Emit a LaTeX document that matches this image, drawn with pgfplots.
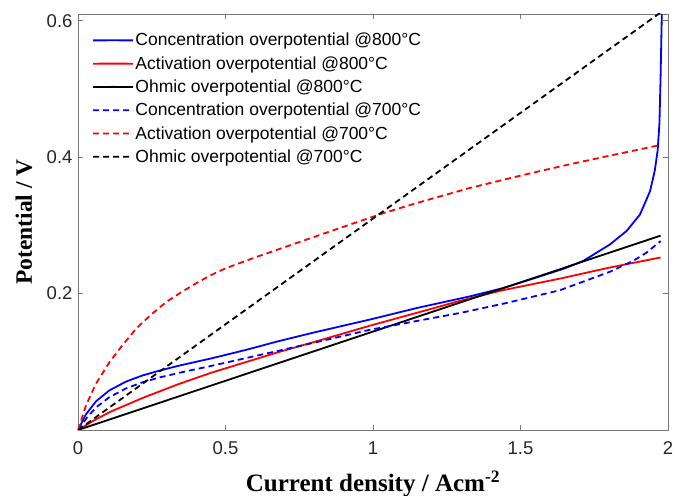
\documentclass[border=0pt]{standalone}
\usepackage{pgfplots}
\pgfplotsset{compat=1.18}
\usepackage{fontspec}
\setmainfont{Liberation Sans}
\newfontfamily\timesfont{Liberation Serif}

\definecolor{axgray}{RGB}{120,120,120}
\definecolor{lblgray}{RGB}{38,38,38}

\begin{document}
\begin{tikzpicture}
\begin{axis}[
    name=ax,
    width=590pt, height=416pt, scale only axis,
    xmin=0, xmax=2, ymin=0, ymax=0.61,
    xtick={0,0.5,1,1.5,2}, xticklabels={0,0.5,1,1.5,2},
    ytick={0.2,0.4,0.6}, yticklabels={0.2,0.4,0.6},
    tick align=inside, major tick length=5pt,
    axis line style={axgray, line width=0.8pt},
    tick style={axgray, line width=0.8pt},
    ticklabel style={font=\fontsize{18.5}{21}\selectfont, text=lblgray},
    xticklabel style={yshift=-8pt},
    yticklabel style={xshift=-2pt},
    xlabel={\timesfont\bfseries Current density / Acm\textsuperscript{-2}},
    ylabel={\timesfont\bfseries Potential / V},
    xlabel style={font=\fontsize{25}{29}\selectfont, at={([yshift=-62pt]axis description cs:0.5,0)}, anchor=base},
    ylabel style={font=\fontsize{23.5}{27}\selectfont, at={([xshift=-46pt]axis description cs:0,0.5)}, anchor=base},
    legend style={draw=none, fill=none, font=\fontsize{17.5}{20}\selectfont,
        at={(axis description cs:0,1)}, anchor=north west, xshift=11pt, yshift=-15.6pt,
        row sep=6.1pt, nodes={inner sep=1.5pt}},
    legend cell align=left,
    legend image code/.code={\draw[#1, line width=1.8pt, line cap=butt] (0pt,0pt) -- (20pt,0.05pt) -- (40pt,0pt);},
    every axis plot/.append style={line width=1.8pt},
    dashed700/.style={dash pattern=on 6pt off 4pt},
]
% concentration overpotential 800
\addplot[blue] coordinates {
(0,0) (0.027,0.023) (0.061,0.042) (0.106,0.058) (0.163,0.071) (0.219,0.080)
(0.276,0.087) (0.339,0.094) (0.452,0.105) (0.565,0.117) (0.678,0.130)
(0.8,0.143) (0.99,0.162) (1.15,0.179) (1.329,0.196) (1.44,0.208)
(1.55,0.223) (1.65,0.237) (1.713,0.248) (1.803,0.272) (1.86,0.292)
(1.905,0.316) (1.939,0.350) (1.955,0.380) (1.965,0.41) (1.971,0.45)
(1.975,0.52) (1.979,0.61)};
\addlegendentry{Concentration overpotential @800°C}
% activation overpotential 800
\addplot[red] coordinates {
(0,0) (0.05,0.013) (0.106,0.026) (0.219,0.047) (0.339,0.067) (0.452,0.084)
(0.565,0.099) (0.678,0.114) (0.8,0.129) (0.99,0.153) (1.15,0.172)
(1.3,0.190) (1.44,0.205) (1.634,0.222) (1.8,0.238) (1.975,0.253)};
\addlegendentry{Activation overpotential @800°C}
% ohmic overpotential 800
\addplot[black] coordinates {(0,0) (1.975,0.285)};
\addlegendentry{Ohmic overpotential @800°C}
% concentration overpotential 700
\addplot[blue, dashed700] coordinates {
(0,0) (0.03,0.018) (0.061,0.033) (0.106,0.048) (0.163,0.061) (0.219,0.070)
(0.276,0.077) (0.355,0.085) (0.452,0.094) (0.565,0.105) (0.678,0.116)
(0.8,0.128) (0.99,0.147) (1.15,0.160) (1.3,0.172) (1.45,0.186)
(1.634,0.205) (1.803,0.232) (1.882,0.248) (1.927,0.260) (1.975,0.277)};
\addlegendentry{Concentration overpotential @700°C}
% activation overpotential 700
\addplot[red, dashed700] coordinates {
(0,0) (0.027,0.036) (0.061,0.068) (0.106,0.099) (0.15,0.124) (0.2,0.150)
(0.25,0.170) (0.3,0.188) (0.35,0.202) (0.4,0.215) (0.45,0.227) (0.5,0.237)
(0.6,0.253) (0.7,0.268) (0.8,0.283) (0.9,0.298) (1.035,0.318) (1.15,0.333)
(1.329,0.355) (1.5,0.373) (1.65,0.388) (1.8,0.402) (1.975,0.418)};
\addlegendentry{Activation overpotential @700°C}
% ohmic overpotential 700
\addplot[black, dashed700] coordinates {(0,0) (2,0.62)};
\addlegendentry{Ohmic overpotential @700°C}
\end{axis}
\pgfresetboundingbox
\path ([shift={(-78pt,-66pt)}]ax.south west) rectangle ([shift={(5pt,14pt)}]ax.north east);
\end{tikzpicture}
\end{document}
